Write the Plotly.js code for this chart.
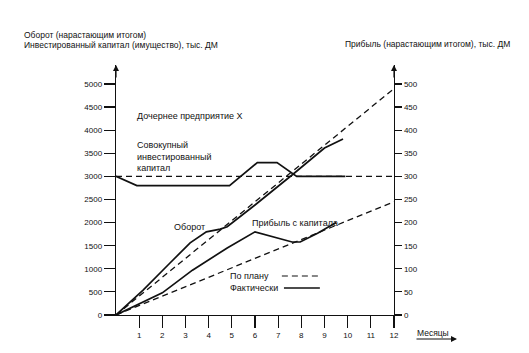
<!DOCTYPE html>
<html>
<head>
<meta charset="utf-8">
<script src="https://cdn.plot.ly/plotly-3.0.1.min.js"></script>
<style>html,body{margin:0;padding:0;background:#fff;}#chart{width:529px;height:353px;}</style>
</head>
<body>
<div id="chart"></div>
<script>
// Invested capital (left axis, thousand DM)
const capitalPlanMonths = [0, 12];
const capitalPlan = [3000, 3000];
const capitalActualMonths = [0, 0.9, 4.9, 6.1, 6.95, 7.8, 9.9];
const capitalActual = [3000, 2800, 2800, 3300, 3300, 3000, 3000];

// Turnover (left axis, cumulative, thousand DM)
const turnoverPlanMonths = [0, 12];
const turnoverPlan = [0, 4900];
const turnoverActualMonths = [0, 1.17, 2.33, 3.2, 3.9, 4.5, 4.8, 6, 7.6, 9, 9.8];
const turnoverActual = [0, 540, 1125, 1560, 1800, 1860, 1910, 2380, 3030, 3615, 3810];

// Return on capital (right axis, cumulative, thousand DM)
const profitPlanMonths = [0, 12];
const profitPlan = [0, 245];
const profitActualMonths = [0, 2, 3.3, 4.8, 6, 7.6, 7.95, 8.7, 9.5];
const profitActual = [0, 48, 97, 145, 180, 158, 158, 177, 200];

// Axis ticks
const monthTicks = [1, 2, 3, 4, 5, 6, 7, 8, 9, 10, 11, 12];
const leftTicks = [0, 500, 1000, 1500, 2000, 2500, 3000, 3500, 4000, 4500, 5000];
const rightTicks = [0, 50, 100, 150, 200, 250, 300, 350, 400, 450, 500];

const FONT = 'Liberation Sans, Arial, sans-serif';
const solid = {color: '#111', width: 1.7};
const dashed = {color: '#111', width: 1.3, dash: '6px,4px'};

const traces = [
  {x: capitalPlanMonths, y: capitalPlan, mode: 'lines', line: dashed, yaxis: 'y'},
  {x: capitalActualMonths, y: capitalActual, mode: 'lines', line: solid, yaxis: 'y'},
  {x: turnoverPlanMonths, y: turnoverPlan, mode: 'lines', line: dashed, yaxis: 'y'},
  {x: turnoverActualMonths, y: turnoverActual, mode: 'lines', line: solid, yaxis: 'y'},
  {x: profitPlanMonths, y: profitPlan, mode: 'lines', line: dashed, yaxis: 'y2'},
  {x: profitActualMonths, y: profitActual, mode: 'lines', line: solid, yaxis: 'y2'}
];

function txt(text, x, y, xref, yref, size) {
  return {text: text, x: x, y: y, xref: xref || 'x', yref: yref || 'y', showarrow: false,
          xanchor: 'left', yanchor: 'middle', font: {family: FONT, size: size || 9, color: '#111'}};
}

const annotations = [
  txt('Дочернее предприятие X', 0.82, 4307),
  txt('Совокупный', 0.82, 3680),
  txt('инвестированный', 0.82, 3420),
  txt('капитал', 0.82, 3182),
  txt('Оборот', 2.42, 1905),
  txt('Прибыль с капитала', 5.78, 1991),
  txt('По плану', 4.83, 844),
  txt('Фактически', 4.83, 584),
  txt('Оборот (нарастающим итогом)', -0.338, 1.118, 'paper', 'paper', 8.5),
  txt('Инвестированный капитал (имущество), тыс. ДМ', -0.338, 1.078, 'paper', 'paper', 8.5),
  txt('Прибыль (нарастающим итогом), тыс. ДМ', 0.8165, 1.084, 'paper', 'paper', 8.5),
  txt('Месяцы', 1.0755, -0.072, 'paper', 'paper', 8.5),
  {x: 0, y: 1, xref: 'paper', yref: 'paper', text: '', showarrow: true, ax: 0, ay: 14,
   arrowhead: 2, arrowsize: 1, arrowwidth: 1.2, arrowcolor: '#111', standoff: 0},
  {x: 1, y: 1, xref: 'paper', yref: 'paper', text: '', showarrow: true, ax: 0, ay: 14,
   arrowhead: 2, arrowsize: 1, arrowwidth: 1.2, arrowcolor: '#111', standoff: 0},
  {x: 1.2266, y: -0.096, xref: 'paper', yref: 'paper', text: '', showarrow: true, ax: -42, ay: 0,
   arrowhead: 2, arrowsize: 1, arrowwidth: 1.2, arrowcolor: '#111', standoff: 0}
];

const shapes = [
  {type: 'line', xref: 'x', yref: 'y', x0: 7.16, x1: 8.72, y0: 844, y1: 844, line: {color: '#111', width: 1.1, dash: '6px,4px'}},
  {type: 'line', xref: 'x', yref: 'y', x0: 7.25, x1: 8.80, y0: 584, y1: 584, line: {color: '#111', width: 1.7}}
];

const axisCommon = {showgrid: false, zeroline: false, showline: true, linecolor: '#111', linewidth: 1.3,
  ticks: 'outside', tickcolor: '#111', tickwidth: 1.2, fixedrange: true,
  tickfont: {family: FONT, size: 8, color: '#111'}};

const layout = {
  width: 529, height: 353,
  margin: {l: 116, r: 135, t: 65, b: 38},
  paper_bgcolor: '#fff', plot_bgcolor: '#fff',
  showlegend: false,
  xaxis: Object.assign({}, axisCommon, {range: [0, 12], tickmode: 'array', tickvals: monthTicks,
    ticktext: monthTicks.map(String), ticklen: 12}),
  yaxis: Object.assign({}, axisCommon, {range: [0, 5411], tickmode: 'array', tickvals: leftTicks,
    ticktext: leftTicks.map(String), ticklen: 11}),
  yaxis2: Object.assign({}, axisCommon, {range: [0, 541.1], overlaying: 'y', side: 'right', tickmode: 'array',
    tickvals: rightTicks, ticktext: rightTicks.map(String), ticklen: 7}),
  annotations: annotations,
  shapes: shapes
};

Plotly.newPlot('chart', traces, layout, {staticPlot: true, displayModeBar: false});
</script>
</body>
</html>
